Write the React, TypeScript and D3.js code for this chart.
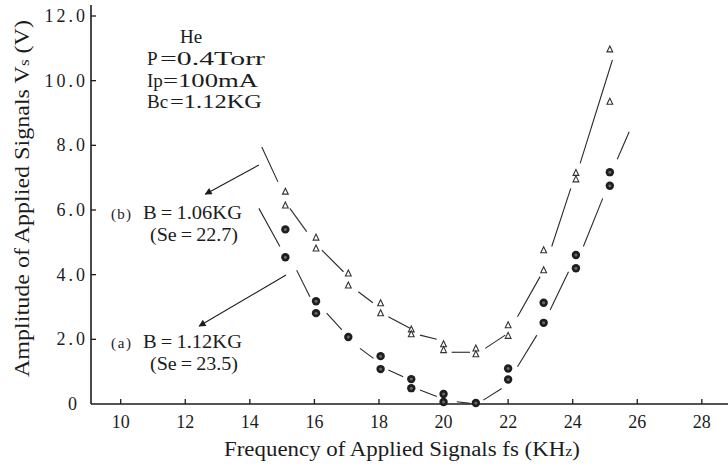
import { useRef, useEffect } from "react";
import * as d3 from "d3";

// Frequencies of the measured points (KHz)
const freq = [15.1, 16.05, 17.05, 18.05, 19.0, 20.0, 21.0, 22.0, 23.1, 24.1, 25.15];

// (b) B = 1.06KG, open triangles, two readings per frequency
const triUpper = [6.57, 5.15, 4.04, 3.12, 2.31, 1.85, 1.72, 2.44, 4.76, 7.15, 10.97];
const triLower = [6.14, 4.81, 3.67, 2.81, 2.16, 1.67, 1.54, 2.11, 4.14, 6.95, 9.35];

// (a) B = 1.12KG, filled circles
const dotUpper = [5.4, 3.18, 2.07, 1.48, 0.77, 0.31, null, 1.1, 3.13, 4.61, 7.17];
const dotLower = [4.54, 2.81, null, 1.08, 0.49, 0.06, 0.03, 0.76, 2.51, 4.2, 6.75];

// hand drawn curves, broken at the markers: consecutive pairs are segments
const curveBx = [14.37, 14.87, 15.24, 15.76, 16.23, 16.9, 17.36, 17.81, 18.29, 18.96, 19.27, 19.79, 20.25, 20.82, 21.29, 21.91, 22.29, 22.99, 23.35, 23.94, 24.23, 25.23];
const curveBy = [7.95, 6.87, 6.05, 5.33, 4.76, 4.09, 3.47, 3.13, 2.7, 2.34, 2.13, 2.0, 1.6, 1.6, 1.72, 2.13, 2.7, 3.94, 4.87, 6.67, 7.44, 10.64];
const curveAx = [14.28, 14.93, 15.45, 15.86, 16.38, 16.85, 17.41, 17.83, 18.29, 18.75, 19.27, 19.79, 20.41, 20.82, 21.23, 21.8, 22.29, 22.89, 23.3, 23.87, 24.33, 24.93, 25.38, 25.75];
const curveAy = [6.05, 4.87, 4.14, 3.32, 2.81, 2.29, 1.72, 1.41, 1.05, 0.84, 0.43, 0.23, 0.07, 0.02, 0.12, 0.48, 1.15, 2.13, 2.91, 4.09, 4.87, 6.36, 7.57, 8.42];

// label arrows [tail, head]
const arrowBx = [14.28, 12.62];
const arrowBy = [7.39, 6.49];
const arrowAx = [15.12, 12.43];
const arrowAy = [3.99, 2.41];

const xTicks = [10, 12, 14, 16, 18, 20, 22, 24, 26, 28];
const yTicks = [0, 2, 4, 6, 8, 10, 12];
const yTickLabels = ["0", "2.0", "4.0", "6.0", "8.0", "10.0", "12.0"];

const conditions = [
  ["P", "=0.4Torr"],
  ["Ip", "=100mA"],
  ["Bc", "=1.12KG"],
];

export default function App() {
  const ref = useRef<SVGSVGElement>(null);

  const W = 728;
  const H = 470;

  useEffect(() => {
    const svg = d3.select(ref.current);
    svg.selectAll("*").remove();

    const x = d3.scaleLinear().domain([9.08, 28.81]).range([91, 728]);
    const y = d3.scaleLinear().domain([0, 12.34]).range([404, 5]);
    const font = "Liberation Serif, DejaVu Serif, serif";
    const ink = "#1c1c1c";

    svg.append("rect").attr("width", W).attr("height", H).attr("fill", "#fff");

    const defs = svg.append("defs");
    defs.append("marker")
      .attr("id", "head")
      .attr("viewBox", "0 0 10 10")
      .attr("refX", 9)
      .attr("refY", 5)
      .attr("markerWidth", 9)
      .attr("markerHeight", 7)
      .attr("markerUnits", "userSpaceOnUse")
      .attr("orient", "auto")
      .append("path")
      .attr("d", "M0,0 L10,5 L0,10 Z")
      .attr("fill", ink);

    // axes
    const axis = svg.append("g").attr("stroke", ink).attr("stroke-width", 1.6);
    axis.append("line").attr("x1", x(9.08)).attr("x2", W).attr("y1", y(0)).attr("y2", y(0));
    axis.append("line").attr("x1", x(9.08)).attr("x2", x(9.08)).attr("y1", y(0)).attr("y2", y(12.34));

    axis.selectAll(".xt").data(xTicks).enter().append("line")
      .attr("x1", d => x(d)).attr("x2", d => x(d))
      .attr("y1", y(0)).attr("y2", y(0) - 5)
      .attr("stroke-width", 1.3);
    axis.selectAll(".yt").data(yTicks.filter(d => d > 0)).enter().append("line")
      .attr("x1", x(9.08)).attr("x2", x(9.08) + 5)
      .attr("y1", d => y(d)).attr("y2", d => y(d))
      .attr("stroke-width", 1.3);

    svg.append("g").selectAll("text").data(xTicks).enter().append("text")
      .attr("x", d => x(d))
      .attr("y", 428)
      .attr("text-anchor", "middle")
      .attr("font-family", font)
      .attr("font-size", 18)
      .attr("fill", ink)
      .text(d => d);

    svg.append("g").selectAll("text").data(yTicks).enter().append("text")
      .attr("x", d => (d === 0 ? 80 : 88))
      .attr("y", d => y(d) + 6)
      .attr("text-anchor", "end")
      .attr("font-family", font)
      .attr("font-size", 18)
      .attr("letter-spacing", 3)
      .attr("fill", ink)
      .text((d, i) => yTickLabels[i]);

    // axis titles
    const xt = svg.append("text")
      .attr("x", 224).attr("y", 456)
      .attr("font-family", font).attr("font-size", 20).attr("fill", ink)
      .attr("textLength", 356).attr("lengthAdjust", "spacingAndGlyphs");
    xt.append("tspan").text("Frequency of Applied Signals fs (KH");
    xt.append("tspan").attr("font-size", 14).text("z");
    xt.append("tspan").text(")");

    const yt = svg.append("text")
      .attr("transform", "translate(29,377) rotate(-90)")
      .attr("font-family", font).attr("font-size", 21).attr("fill", ink)
      .attr("textLength", 357).attr("lengthAdjust", "spacingAndGlyphs");
    yt.append("tspan").text("Amplitude of Applied Signals V");
    yt.append("tspan").attr("font-size", 15).text("s");
    yt.append("tspan").text(" (V)");

    // curves
    const line = d3.line<number[]>().x(p => x(p[0])).y(p => y(p[1]));
    const drawSegments = (xs: number[], ys: number[]) => {
      const segs = d3.range(0, xs.length, 2).map(k => [[xs[k], ys[k]], [xs[k + 1], ys[k + 1]]]);
      svg.append("g").selectAll("path").data(segs).enter().append("path")
        .attr("d", d => line(d))
        .attr("fill", "none")
        .attr("stroke", "#2a2a2a")
        .attr("stroke-width", 1.1);
    };
    drawSegments(curveBx, curveBy);
    drawSegments(curveAx, curveAy);

    // triangles
    const tri = freq.flatMap((f, i) => [[f, triUpper[i]], [f, triLower[i]]]);
    svg.append("g").selectAll("path").data(tri).enter().append("path")
      .attr("transform", d => `translate(${x(d[0])},${y(d[1])})`)
      .attr("d", "M0,-3.4 L2.9,2.6 L-2.9,2.6 Z")
      .attr("fill", "#fff")
      .attr("stroke", "#333")
      .attr("stroke-width", 1.1);

    // circles
    const dots = freq.flatMap((f, i) => [[f, dotUpper[i]], [f, dotLower[i]]]).filter(d => d[1] !== null) as number[][];
    const dg = svg.append("g");
    dg.selectAll("circle.o").data(dots).enter().append("circle")
      .attr("cx", d => x(d[0])).attr("cy", d => y(d[1])).attr("r", 4.2)
      .attr("fill", "#1e1e1e");
    dg.selectAll("circle.i").data(dots).enter().append("circle")
      .attr("cx", d => x(d[0])).attr("cy", d => y(d[1])).attr("r", 1.5)
      .attr("fill", "#6a6a6a");

    // arrows
    [[arrowBx, arrowBy], [arrowAx, arrowAy]].forEach(([ax, ay]) => {
      svg.append("line")
        .attr("x1", x(ax[0])).attr("y1", y(ay[0]))
        .attr("x2", x(ax[1])).attr("y2", y(ay[1]))
        .attr("stroke", ink).attr("stroke-width", 1.1)
        .attr("marker-end", "url(#head)");
    });

    // header block
    const hdr = svg.append("g").attr("font-family", font).attr("font-size", 19).attr("fill", ink);
    hdr.append("text").attr("x", 180).attr("y", 43).text("He");
    const eqX = [160, 163, 170];
    const eqLen = [105, 95, 92];
    conditions.forEach((c, i) => {
      const by = 65 + i * 21.5;
      hdr.append("text").attr("x", 147).attr("y", by).text(c[0]);
      hdr.append("text").attr("x", eqX[i]).attr("y", by)
        .attr("textLength", eqLen[i]).attr("lengthAdjust", "spacingAndGlyphs").text(c[1]);
    });

    // series labels
    const lab = svg.append("g").attr("font-family", font).attr("fill", ink);
    const labels = [
      { tag: "(b)", main: "B\u2009=\u20091.06KG", sub: "(Se\u2009=\u200922.7)", base: 219, sub2: 241 },
      { tag: "(a)", main: "B\u2009=\u20091.12KG", sub: "(Se\u2009=\u200923.5)", base: 348, sub2: 370 },
    ];
    labels.forEach(l => {
      lab.append("text").attr("x", 111).attr("y", l.base).attr("font-size", 15).attr("textLength", 20).text(l.tag);
      lab.append("text").attr("x", 143).attr("y", l.base).attr("font-size", 19)
        .attr("textLength", 99).attr("lengthAdjust", "spacingAndGlyphs").text(l.main);
      lab.append("text").attr("x", 150).attr("y", l.sub2).attr("font-size", 19)
        .attr("textLength", 88).attr("lengthAdjust", "spacingAndGlyphs").text(l.sub);
    });
  }, []);

  return (
    <div>
      <svg ref={ref} width={W} height={H} style={{ position: "absolute", left: 0, top: 0 }} />
    </div>
  );
}
